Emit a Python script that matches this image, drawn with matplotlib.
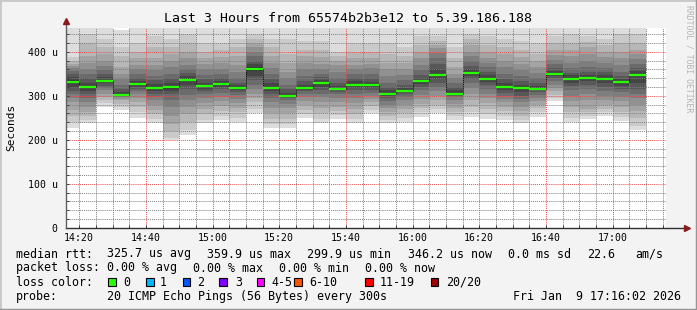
import matplotlib
matplotlib.use("Agg")
import matplotlib.pyplot as plt
from matplotlib.lines import Line2D
from matplotlib.patches import Rectangle

plt.rcParams["font.family"] = "DejaVu Sans Mono"

W, H = 697, 310

# 5 minute steps (end time of each step)
bar_end = ["14:20", "14:25", "14:30", "14:35", "14:40", "14:45", "14:50", "14:55",
           "15:00", "15:05", "15:10", "15:15", "15:20", "15:25", "15:30", "15:35",
           "15:40", "15:45", "15:50", "15:55", "16:00", "16:05", "16:10", "16:15",
           "16:20", "16:25", "16:30", "16:35", "16:40", "16:45", "16:50", "16:55",
           "17:00", "17:05", "17:10"]

# median rtt per step (us)
median_us = [331, 320, 334, 302, 327, 318, 320, 336, 323, 327, 318, 360, 317.5, 300,
             317.5, 329.5, 316, 325, 324, 304, 311, 334, 347, 304, 352, 339, 320,
             317.5, 315, 350, 339, 341, 338, 330.5, 346.2]

# 20 sorted ping times per step (us)
smoke_us = [
    [227, 240, 255, 268, 285, 295, 303, 310, 318, 328, 335, 342, 350, 357, 362, 368, 373, 380, 388, 470],
    [239, 245, 255, 262, 275, 285, 295, 303, 310, 317, 322, 330, 340, 350, 360, 375, 390, 420, 440, 470],
    [275, 283, 290, 297, 305, 312, 318, 323, 328, 332, 336, 342, 350, 358, 368, 380, 395, 410, 430, 470],
    [267, 275, 282, 290, 293, 296, 298, 300, 301, 302, 304, 308, 315, 325, 338, 350, 365, 390, 410, 450],
    [250, 262, 275, 285, 295, 303, 310, 315, 320, 325, 328, 333, 340, 350, 360, 370, 385, 400, 420, 460],
    [239, 248, 258, 268, 280, 290, 298, 305, 311, 316, 320, 327, 335, 345, 358, 370, 385, 410, 435, 460],
    [199, 205, 220, 235, 255, 275, 290, 303, 310, 316, 322, 330, 340, 350, 365, 380, 395, 410, 430, 460],
    [210, 222, 240, 258, 275, 290, 302, 315, 325, 333, 340, 345, 352, 360, 370, 385, 400, 420, 440, 460],
    [237, 245, 258, 270, 283, 295, 303, 310, 316, 320, 324, 330, 338, 348, 360, 372, 385, 400, 420, 460],
    [245, 255, 265, 277, 288, 298, 307, 315, 320, 325, 328, 333, 340, 350, 360, 375, 388, 405, 420, 460],
    [241, 250, 262, 272, 283, 293, 302, 308, 313, 317, 320, 325, 330, 340, 355, 370, 390, 410, 430, 460],
    [260, 270, 285, 295, 305, 315, 325, 335, 345, 356, 365, 372, 380, 390, 400, 410, 420, 430, 440, 460],
    [226, 235, 248, 260, 272, 285, 295, 303, 310, 316, 320, 328, 338, 350, 362, 375, 390, 410, 430, 460],
    [226, 235, 248, 260, 272, 282, 290, 295, 298, 299, 302, 307, 315, 325, 340, 355, 375, 395, 430, 460],
    [250, 258, 268, 278, 288, 297, 304, 310, 314, 317, 320, 325, 333, 345, 360, 375, 390, 405, 425, 460],
    [237, 248, 260, 272, 285, 296, 305, 313, 320, 327, 331, 336, 342, 350, 360, 372, 388, 405, 425, 460],
    [248, 257, 266, 275, 285, 295, 303, 309, 313, 315, 318, 323, 330, 340, 355, 370, 380, 390, 400, 460],
    [237, 248, 258, 270, 283, 295, 305, 312, 318, 323, 327, 333, 340, 350, 360, 370, 385, 400, 420, 460],
    [260, 268, 277, 285, 292, 300, 307, 313, 318, 322, 326, 332, 340, 350, 362, 372, 385, 400, 420, 460],
    [237, 245, 255, 263, 272, 280, 288, 295, 300, 303, 306, 312, 320, 330, 345, 360, 375, 395, 420, 460],
    [241, 250, 260, 270, 280, 290, 298, 304, 308, 310, 312, 318, 325, 335, 348, 360, 375, 390, 410, 460],
    [252, 262, 272, 282, 292, 302, 312, 320, 326, 332, 335, 340, 348, 358, 370, 385, 400, 415, 435, 460],
    [260, 270, 280, 290, 300, 310, 320, 330, 338, 345, 349, 360, 372, 385, 398, 408, 415, 425, 435, 460],
    [245, 253, 262, 272, 282, 290, 296, 300, 303, 304, 306, 312, 320, 330, 340, 350, 365, 385, 410, 460],
    [252, 262, 275, 290, 305, 318, 328, 338, 345, 350, 353, 360, 368, 378, 390, 400, 415, 430, 440, 460],
    [247, 258, 270, 283, 295, 305, 315, 325, 332, 337, 340, 346, 355, 365, 375, 385, 400, 415, 435, 460],
    [245, 255, 265, 275, 285, 293, 300, 307, 313, 318, 321, 328, 338, 350, 365, 380, 395, 410, 430, 460],
    [239, 245, 255, 265, 275, 285, 292, 300, 308, 316, 320, 325, 333, 345, 358, 372, 388, 405, 425, 460],
    [252, 262, 272, 280, 288, 295, 302, 308, 312, 314, 316, 322, 330, 340, 352, 365, 380, 395, 420, 460],
    [288, 295, 302, 310, 318, 325, 333, 340, 345, 349, 352, 357, 363, 372, 382, 393, 405, 420, 435, 460],
    [241, 250, 262, 275, 288, 300, 312, 322, 330, 336, 341, 346, 352, 362, 375, 390, 405, 420, 440, 460],
    [247, 255, 262, 270, 290, 305, 315, 325, 333, 339, 343, 348, 355, 365, 380, 395, 410, 422, 435, 460],
    [254, 262, 270, 280, 290, 300, 310, 320, 330, 336, 341, 346, 353, 362, 375, 388, 400, 415, 430, 460],
    [242, 252, 262, 275, 288, 298, 308, 315, 322, 328, 332, 337, 345, 355, 370, 385, 400, 420, 440, 460],
    [222, 232, 250, 265, 280, 295, 305, 315, 330, 345, 350, 356, 363, 372, 383, 395, 405, 420, 440, 460],
]

loss_labels = ["0", "1", "2", "3", "4-5", "6-10", "11-19", "20/20"]
loss_colors = ["#26ff00", "#00b8ff", "#0059ff", "#7e00ff", "#ff00ff", "#ff5500", "#ff0000", "#a10000"]

t_start = 14 * 60 + 16 + 2 / 60   # 14:16:02
t_end = t_start + 180
step = 5


def to_min(s):
    h, m = s.split(":")
    return int(h) * 60 + int(m)


def px(x, y):
    return x / W, 1 - y / H


def main():
    ends = [to_min(s) for s in bar_end]
    lefts = [e - step for e in ends]

    fig = plt.figure(figsize=(W / 100, H / 100), dpi=100)
    fig.patch.set_facecolor("#f3f3f3")
    ax = fig.add_axes([66 / W, (H - 227.7) / H, 600 / W, 199.4 / H])
    ax.set_facecolor("white")

    # smoke: band i spans ping i .. ping 21-i, darker towards the middle
    half = 10
    for i in range(half):
        g = int(190 / half * (half - (i + 1))) + 50
        col = "#%02x%02x%02x" % (g, g, g)
        bottoms = [p[i] for p in smoke_us]
        heights = [p[19 - i] - p[i] for p in smoke_us]
        ax.bar(lefts, heights, bottom=bottoms, width=step, align="edge",
               color=col, linewidth=0, zorder=1)

    # median line
    ax.vlines(ends[:-1], median_us[:-1], median_us[1:], colors="black",
              linestyles=(0, (1, 1)), linewidth=0.7, zorder=4)
    ax.hlines(median_us, lefts, ends, colors=loss_colors[0], linewidth=1.6, zorder=5)

    ax.set_xlim(t_start, t_end)
    ax.set_ylim(0, 453.2)

    ax.set_yticks([0, 100, 200, 300, 400])
    ax.set_yticklabels(["0", "100 u", "200 u", "300 u", "400 u"])
    ax.set_yticks(range(0, 460, 20), minor=True)
    xt = list(range(860, 1031, 20))
    ax.set_xticks(xt)
    ax.set_xticklabels(["%d:%02d" % (m // 60, m % 60) for m in xt])
    ax.set_xticks(range(860, 1036, 5), minor=True)

    ax.grid(which="minor", color=(0.5, 0.5, 0.5, 0.32), linestyle=(0, (1, 1)),
            linewidth=0.7, zorder=3)
    ax.grid(which="major", color=(0.9, 0.3, 0.3, 0.35), linestyle=(0, (1, 1)),
            linewidth=0.7, zorder=3)
    ax.set_axisbelow(False)

    ax.tick_params(which="both", labelsize=7.1, colors="#404040", labelcolor="black",
                   length=2, width=0.7, direction="in")
    ax.tick_params(axis="x", pad=4)
    ax.tick_params(axis="y", pad=6)
    for s in ax.spines.values():
        s.set_visible(False)

    # axes with arrows
    ax.add_line(Line2D([0, 1.033], [0, 0], transform=ax.transAxes, color="#303030",
                       linewidth=1.0, clip_on=False, zorder=6))
    ax.add_line(Line2D([0, 0], [0, 1.03], transform=ax.transAxes, color="#606060",
                       linewidth=1.0, clip_on=False, zorder=6))
    ax.plot([1.035], [0], marker=">", markersize=4, color="#8b1a1a", transform=ax.transAxes,
            clip_on=False, zorder=7)
    ax.plot([0], [1.035], marker="^", markersize=4, color="#8b1a1a", transform=ax.transAxes,
            clip_on=False, zorder=7)

    fig.text(*px(348, 19), "Last 3 Hours from 65574b2b3e12 to 5.39.186.188",
             fontsize=9.5, ha="center", va="center")
    fig.text(*px(11, 127), "Seconds", fontsize=8, rotation=90, ha="center", va="center")
    fig.text(*px(689, 59), "RRDTOOL / TOBI OETIKER", fontsize=5.9, rotation=270,
             ha="center", va="center", color="#b4b4b4")

    fs = 8.4
    line1 = [(16, "median rtt:"), (107.3, "325.7 us avg"), (206.7, "359.9 us max"),
             (307, "299.9 us min"), (407.7, "346.2 us now"), (507.7, "0.0 ms sd"),
             (586.7, "22.6"), (635.7, "am/s")]
    for x, s in line1:
        fig.text(*px(x, 254), s, fontsize=fs, va="center")
    line2 = [(16, "packet loss:"), (107.3, "0.00 % avg"), (193.3, "0.00 % max"),
             (279.3, "0.00 % min"), (365, "0.00 % now")]
    for x, s in line2:
        fig.text(*px(x, 268), s, fontsize=fs, va="center")

    fig.text(*px(16, 282), "loss color:", fontsize=fs, va="center")
    box_x = [108.3, 146, 182.7, 219.3, 256.7, 294.3, 365, 430.7]
    lab_x = [123.3, 160, 197.3, 235, 271.7, 309, 380, 446]
    for bx, lx, lab, c in zip(box_x, lab_x, loss_labels, loss_colors):
        fig.patches.append(Rectangle(px(bx, 286), 7.5 / W, 8 / H, transform=fig.transFigure,
                                     facecolor=c, edgecolor="black", linewidth=0.8))
        fig.text(*px(lx, 282), lab, fontsize=fs, va="center")

    fig.text(*px(16, 296.5), "probe:", fontsize=fs, va="center")
    fig.text(*px(107.3, 296.5), "20 ICMP Echo Pings (56 Bytes) every 300s", fontsize=fs, va="center")
    fig.text(*px(681, 296.5), "Fri Jan  9 17:16:02 2026", fontsize=fs, va="center", ha="right")

    # image frame
    fig.add_artist(Line2D([0, 0, 1], [0, 1, 1], transform=fig.transFigure, color="#c8c8c8", linewidth=2))
    fig.add_artist(Line2D([0, 1, 1], [0, 0, 1], transform=fig.transFigure, color="#969696", linewidth=2.5))

    fig.savefig("out.png", dpi=100, facecolor=fig.get_facecolor())


if __name__ == "__main__":
    main()
